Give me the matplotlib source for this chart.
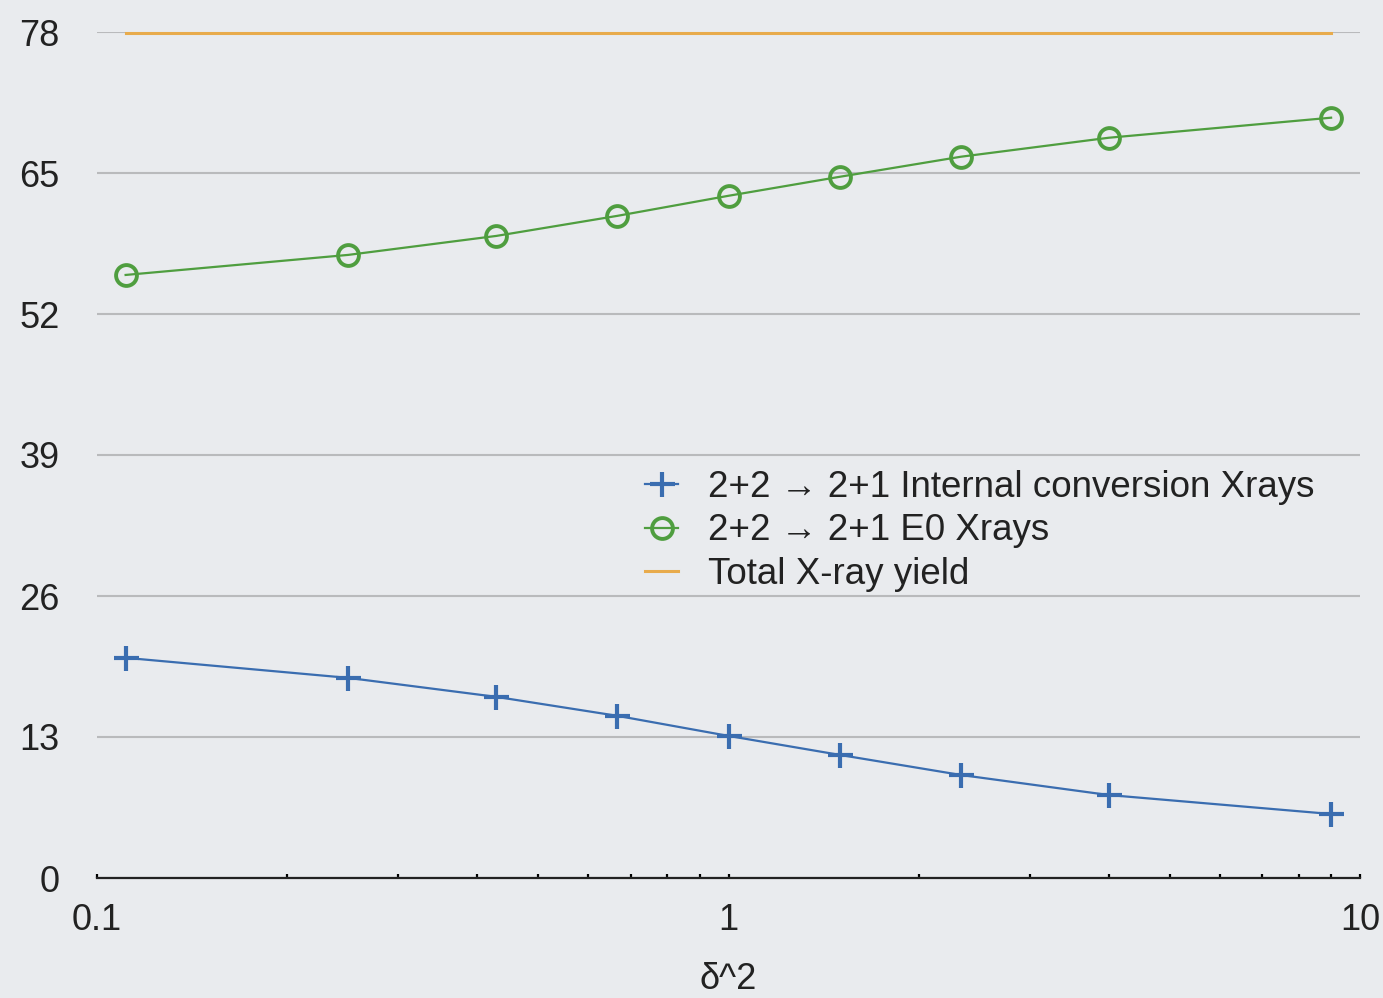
import numpy as np
import matplotlib
matplotlib.use('Agg')
import matplotlib.pyplot as plt
from matplotlib.ticker import NullFormatter, LogLocator

plt.rcParams['font.family'] = ['Liberation Sans', 'DejaVu Sans']

# delta^2 values (p/(1-p) for p = 0.1 .. 0.9)
delta2 = [0.111, 0.25, 0.429, 0.667, 1.0, 1.5, 2.333, 4.0, 9.0]
ic_xrays = [20.3, 18.45, 16.7, 14.95, 13.1, 11.35, 9.5, 7.65, 5.9]
e0_xrays = [55.6, 57.45, 59.2, 61.05, 62.9, 64.65, 66.5, 68.25, 70.1]
total_yield = [77.9, 77.9]
total_x = [0.111, 9.0]

yticks = [0, 13, 26, 39, 52, 65, 78]

bg = '#e9ebee'
ink = '#222222'
fig = plt.figure(figsize=(13.83, 9.98), dpi=100, facecolor=bg)
ax = fig.add_axes([97/1383, 120/998, (1360-97)/1383, (878-32)/998], facecolor=bg)

ax.set_xscale('log')
ax.set_xlim(0.1, 10)
ax.set_ylim(0, 78)

ax.plot(delta2, ic_xrays, color='#3a6db0', lw=1.6, marker='+', ms=18, mew=3.0,
        label='2+2 \u2192 2+1 Internal conversion Xrays', clip_on=False, zorder=4)
ax.plot(delta2, e0_xrays, color='#4f9e3f', lw=1.6, marker='o', ms=15, mew=2.8,
        mfc='none', label='2+2 \u2192 2+1 E0 Xrays', clip_on=False, zorder=4)
ax.plot(total_x, total_yield, color='#e8ab4c', lw=2.2, label='Total X-ray yield',
        clip_on=False, zorder=3)

ax.set_yticks(yticks)
ax.set_yticklabels([str(v) for v in yticks])
ax.yaxis.grid(True, color='#b9babc', lw=1.5)
ax.set_axisbelow(True)

ax.set_xticks([0.1, 1, 10])
ax.set_xticklabels(['0.1', '1', '10'])
ax.xaxis.set_minor_locator(LogLocator(base=10, subs=np.arange(2, 10)))
ax.xaxis.set_minor_formatter(NullFormatter())

for s in ['top', 'right', 'left']:
    ax.spines[s].set_visible(False)
ax.spines['bottom'].set_color(ink)
ax.spines['bottom'].set_linewidth(1.6)

ax.tick_params(axis='y', length=0, pad=27, labelsize=26, labelcolor=ink)
ax.tick_params(axis='x', which='major', direction='in', length=3, width=1.6,
               pad=18, labelsize=26, labelcolor=ink)
ax.tick_params(axis='x', which='minor', direction='in', length=3, width=1.6)

ax.set_xlabel('\u03b4^2', fontsize=26, color=ink, labelpad=17)

leg = ax.legend(loc='upper left', bbox_to_anchor=(645/1383, 1 - 470/998),
                bbox_transform=fig.transFigure, frameon=False, fontsize=26.5,
                handlelength=0.9, handletextpad=0.8, labelspacing=0.23,
                borderaxespad=0, borderpad=0)
for t in leg.get_texts():
    t.set_color(ink)

fig.savefig('out.png', dpi=100, facecolor=bg)
